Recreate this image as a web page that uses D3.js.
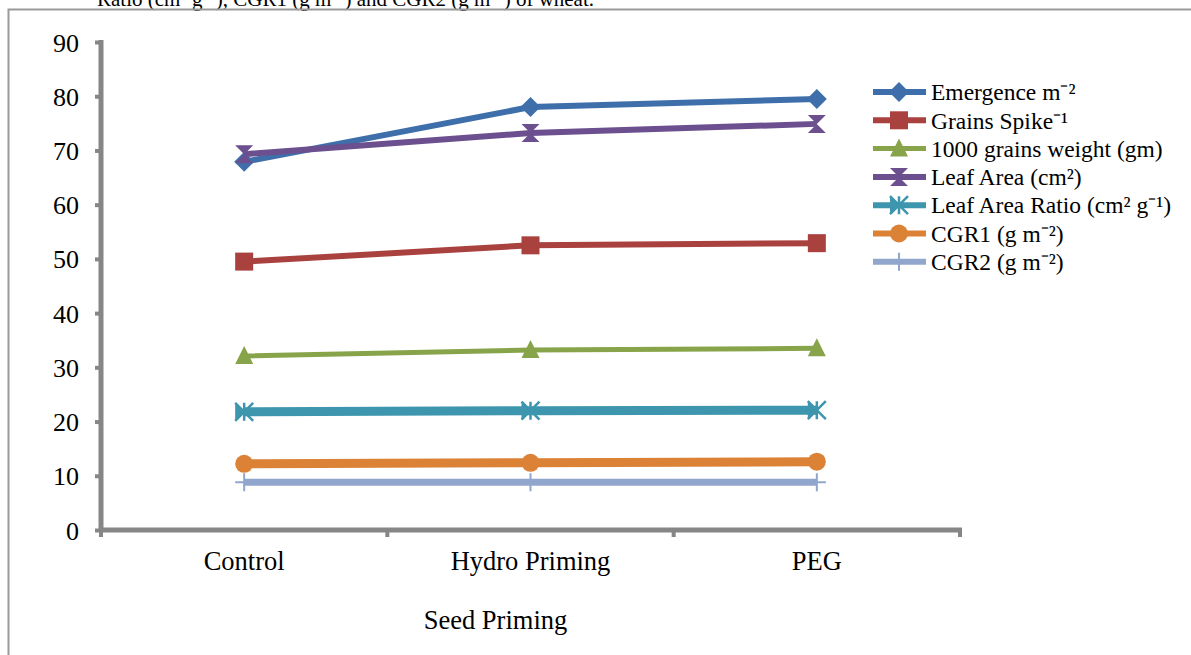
<!DOCTYPE html>
<html>
<head>
<meta charset="utf-8">
<script src="https://cdn.jsdelivr.net/npm/d3@7"></script>
<style>
  html, body { margin: 0; padding: 0; background: #fff; }
  svg { display: block; }
  text { font-family: "Liberation Serif", "Times New Roman", serif; fill: #000; }
</style>
</head>
<body>
<svg id="chart" width="1191" height="655"></svg>
<script>
// Seed priming treatments on the x axis
const categories = ["Control", "Hydro Priming", "PEG"];

// One array per measured trait, in the order of the categories
const emergence      = [67.9, 78.0, 79.5];
const grainsSpike    = [49.5, 52.5, 52.9];
const grainWeight    = [32.1, 33.2, 33.5];
const leafArea       = [69.3, 73.2, 74.9];
const leafAreaRatio  = [21.8, 22.0, 22.1];
const cgr1           = [12.2, 12.4, 12.6];
const cgr2           = [8.8, 8.8, 8.8];

const seriesNames = [
  "Emergence m\u207B\u00B2",
  "Grains Spike\u207B\u00B9",
  "1000 grains weight (gm)",
  "Leaf Area (cm\u00B2)",
  "Leaf Area Ratio (cm\u00B2 g\u207B\u00B9)",
  "CGR1 (g m\u207B\u00B2)",
  "CGR2 (g m\u207B\u00B2)"
];
const seriesValues = [emergence, grainsSpike, grainWeight, leafArea, leafAreaRatio, cgr1, cgr2];

const yTicks = [0, 10, 20, 30, 40, 50, 60, 70, 80, 90];
const xTitle = "Seed Priming";
const caption = "Ratio (cm\u00B2 g\u207B\u00B9), CGR1 (g m\u207B\u00B2) and CGR2 (g m\u207B\u00B2) of wheat.";

// Per-series look
const styles = [
  { color: "#3E6FAA", width: 6, marker: "diamond" },
  { color: "#A9423F", width: 6, marker: "square" },
  { color: "#88A44A", width: 5, marker: "triangle" },
  { color: "#6B4F8E", width: 6, marker: "hourglass" },
  { color: "#3D96AE", width: 9, marker: "star" },
  { color: "#DB8237", width: 9, marker: "circle" },
  { color: "#90A6CD", width: 7, marker: "plus" }
];

const svg = d3.select("#chart");

// Frame around the figure and the caption line running above it
svg.append("text")
  .attr("x", 97).attr("y", 6)
  .style("font-size", "21px")
  .text(caption);
svg.append("path")
  .attr("d", "M8.5,660 L8.5,9.5 L1200,9.5")
  .attr("fill", "none").attr("stroke", "#9a9a9a").attr("stroke-width", 2);

const plot = { left: 101, right: 960, top: 42, bottom: 530 };

const x = d3.scaleBand().domain(categories).range([plot.left, plot.right]).padding(0);
const y = d3.scaleLinear().domain([0, 90]).range([plot.bottom, plot.top]);
const cx = c => x(c) + x.bandwidth() / 2;

const axisColor = "#868686";

// Y axis
const yAxis = svg.append("g")
  .attr("transform", `translate(${plot.left},0)`)
  .call(d3.axisLeft(y).tickValues(yTicks).tickSize(6).tickPadding(16).tickFormat(d3.format("d")));
yAxis.select(".domain").attr("stroke", axisColor).attr("stroke-width", 5)
  .attr("d", `M0,${plot.top - 2}V${plot.bottom + 2}`);
yAxis.selectAll(".tick line").attr("stroke", axisColor).attr("stroke-width", 4);
yAxis.selectAll(".tick text").style("font-size", "26px")
  .style("font-family", "'Liberation Serif', serif").attr("fill", "#000").attr("dy", "0.35em");

// X axis: ticks sit on the category boundaries
const boundaries = categories.map(c => x(c)).concat([plot.right]);
const xAxis = svg.append("g").attr("transform", `translate(0,${plot.bottom})`);
xAxis.append("line")
  .attr("x1", plot.left - 2).attr("x2", plot.right + 2)
  .attr("stroke", axisColor).attr("stroke-width", 5);
xAxis.selectAll("line.tick").data(boundaries).join("line")
  .attr("class", "tick")
  .attr("x1", d => d).attr("x2", d => d).attr("y1", 0).attr("y2", 7)
  .attr("stroke", axisColor).attr("stroke-width", 4);
xAxis.selectAll("text.cat").data(categories).join("text")
  .attr("class", "cat")
  .attr("x", d => cx(d)).attr("y", 40)
  .attr("text-anchor", "middle")
  .style("font-size", "26.5px")
  .text(d => d);

svg.append("text")
  .attr("x", (plot.left + plot.right) / 2 - 35).attr("y", 629)
  .attr("text-anchor", "middle")
  .style("font-size", "26.5px")
  .text(xTitle);

// Marker drawing
function drawMarker(g, kind, color) {
  const s = 9;
  switch (kind) {
    case "diamond":
      g.append("path").attr("d", `M0,${-s - 1}L${s + 1},0L0,${s + 1}L${-s - 1},0Z`).attr("fill", color);
      break;
    case "square":
      g.append("rect").attr("x", -s).attr("y", -s).attr("width", 2 * s).attr("height", 2 * s).attr("fill", color);
      break;
    case "triangle":
      g.append("path").attr("d", `M0,${-s - 1}L${s},${s - 1}L${-s},${s - 1}Z`).attr("fill", color);
      break;
    case "hourglass":
      g.append("path").attr("d", `M${-s},${-s}L${s},${-s}L0,0Z M${-s},${s}L${s},${s}L0,0Z`).attr("fill", color);
      break;
    case "star":
      g.append("path").attr("d", `M${-s},${-s}L${s},${s}M${-s},${s}L${s},${-s}M0,${-s}L0,${s}`)
        .attr("stroke", color).attr("stroke-width", 2.5).attr("fill", "none");
      g.append("path").attr("d", `M${-s},${-s}L0,0L${-s},${s}Z`).attr("fill", color);
      break;
    case "circle":
      g.append("circle").attr("r", s).attr("fill", color);
      break;
    case "plus":
      g.append("path").attr("d", `M0,${-s}L0,${s}M${-s},0L${s},0`)
        .attr("stroke", color).attr("stroke-width", 2).attr("fill", "none");
      break;
  }
}

// Series lines and markers
const line = d3.line().x(d => cx(d.cat)).y(d => y(d.v));
seriesValues.forEach((vals, i) => {
  const st = styles[i];
  const pts = categories.map((c, j) => ({ cat: c, v: vals[j] }));
  const g = svg.append("g").attr("class", "series");
  g.append("path").datum(pts)
    .attr("d", line).attr("fill", "none")
    .attr("stroke", st.color).attr("stroke-width", st.width)
    .attr("stroke-linejoin", "round");
  pts.forEach(p => {
    const m = g.append("g").attr("transform", `translate(${cx(p.cat)},${y(p.v)})`);
    drawMarker(m, st.marker, st.color);
  });
});

// Legend
const legend = svg.append("g").attr("transform", "translate(873,92)");
seriesNames.forEach((name, i) => {
  const st = styles[i];
  const row = legend.append("g").attr("transform", `translate(0,${i * 28.3})`);
  row.append("line").attr("x1", 0).attr("x2", 53).attr("y1", 0).attr("y2", 0)
    .attr("stroke", st.color).attr("stroke-width", Math.min(st.width, 6));
  const m = row.append("g").attr("transform", "translate(26,0)");
  drawMarker(m, st.marker, st.color);
  row.append("text").attr("x", 58).attr("y", 0).attr("dy", "0.35em")
    .style("font-size", "23.5px").text(name);
});
</script>
</body>
</html>
